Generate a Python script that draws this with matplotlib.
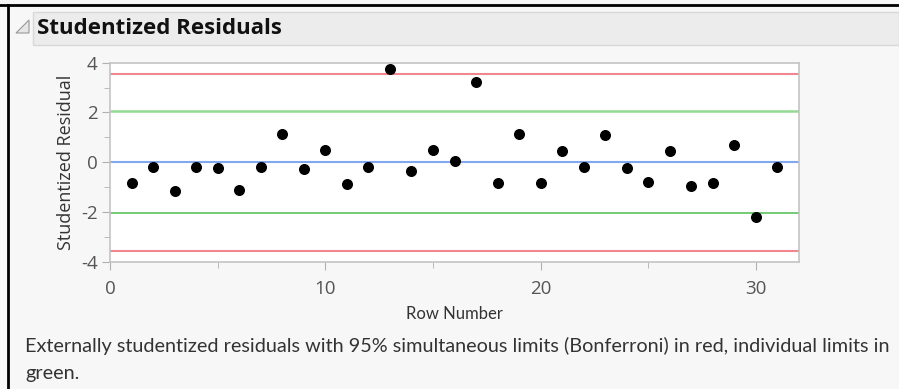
import matplotlib
matplotlib.use("Agg")
import matplotlib.pyplot as plt
from matplotlib.patches import Rectangle, Polygon
from matplotlib.ticker import MultipleLocator

rows = list(range(1, 32))
resid = [-0.82, -0.19, -1.15, -0.18, -0.24, -1.12, -0.18, 1.15, -0.27, 0.50,
         -0.86, -0.18, 3.73, -0.34, 0.49, 0.05, 3.21, -0.82, 1.13, -0.82,
         0.47, -0.18, 1.10, -0.22, -0.81, 0.47, -0.94, -0.83, 0.71, -2.20, -0.18]
bonf_limit = 3.55
indiv_limit = 2.06

title = "Studentized Residuals"
xlabel = "Row Number"
ylabel = "Studentized Residual"
note1 = "Externally studentized residuals with 95% simultaneous limits (Bonferroni) in red, individual limits in"
note2 = "green."

W, H = 899, 389
plt.rcParams['font.family'] = ['Open Sans', 'DejaVu Sans']
plt.rcParams['axes.unicode_minus'] = False
fig = plt.figure(figsize=(W/100, H/100), dpi=100)
fig.patch.set_facecolor("#f7f7f7")

# outer black borders
fig.add_artist(plt.Line2D([0, 1], [1 - 5/H, 1 - 5/H], color="black", lw=2, transform=fig.transFigure))
fig.add_artist(plt.Line2D([8/W, 8/W], [0, 1 - 5/H], color="black", lw=2, transform=fig.transFigure))

# header bar
fig.add_artist(Rectangle((33/W, 1 - 45/H), (W - 33)/W, 33/H, transform=fig.transFigure,
                         facecolor="#ececec", edgecolor="#d8d8d8", lw=1))
fig.add_artist(Polygon([(16/W, 1 - 33/H), (29/W, 1 - 20/H), (29/W, 1 - 33/H)], closed=True,
                       transform=fig.transFigure, facecolor="#e6e6e6", edgecolor="#999999", lw=0.8))
fig.text(37/W, 1 - 29/H, title, fontsize=16, fontweight="bold", color="#111111",
         va="center", ha="left")

ax = fig.add_axes([110/W, 1 - 261.7/H, 689/W, 199/H])
ax.set_facecolor("white")
ax.axhline(bonf_limit, color="#f2868e", lw=1.5, zorder=1)
ax.axhline(-bonf_limit, color="#f2868e", lw=1.5, zorder=1)
ax.axhline(indiv_limit, color="#93d993", lw=1.8, zorder=1)
ax.axhline(-indiv_limit, color="#5cc25c", lw=1.2, zorder=1)
ax.axhline(0, color="#7fa8f2", lw=1.5, zorder=1)
ax.scatter(rows, resid, s=48, color="black", zorder=3)

ax.set_xlim(0, 32)
ax.set_ylim(-4, 4)
ax.xaxis.set_major_locator(MultipleLocator(10))
ax.xaxis.set_minor_locator(MultipleLocator(5))
ax.yaxis.set_major_locator(MultipleLocator(2))
ax.yaxis.set_minor_locator(MultipleLocator(1))
for s in ax.spines.values():
    s.set_color("#c4c4c4")
    s.set_linewidth(1.2)
ax.tick_params(which="major", length=6, color="#b0b0b0", labelcolor="#555555", labelsize=13.5, pad=3)
ax.tick_params(axis="x", which="major", pad=7)
ax.tick_params(which="minor", length=4, color="#b0b0b0")
ax.set_xlabel(xlabel, fontsize=12, color="#333333", labelpad=6, family=['Lato', 'DejaVu Sans'])
ax.set_ylabel(ylabel, fontsize=13, color="#333333", labelpad=4)

fig.text(25/W, 1 - 346/H, note1, fontsize=14.3, color="#333333", va="center", ha="left",
         family=['Lato', 'DejaVu Sans'])
fig.text(25/W, 1 - 373/H, note2, fontsize=14.3, color="#333333", va="center", ha="left",
         family=['Lato', 'DejaVu Sans'])

fig.savefig("out.png", dpi=100, facecolor=fig.get_facecolor())
